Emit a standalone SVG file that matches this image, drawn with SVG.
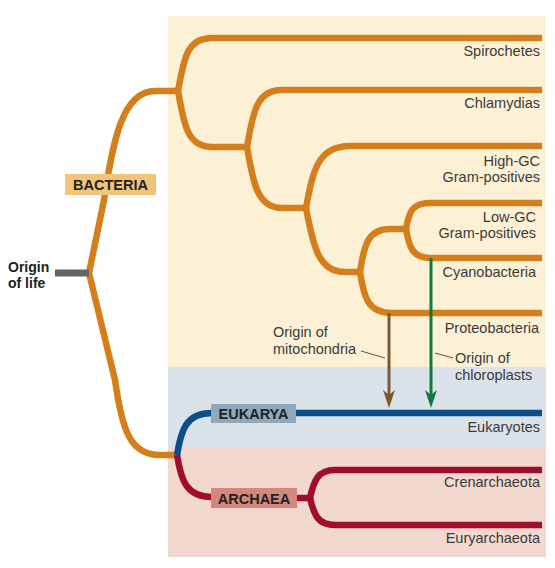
<svg xmlns="http://www.w3.org/2000/svg" width="555" height="568" viewBox="0 0 555 568">
<style>
.lbl{font-family:"Liberation Sans",Arial,sans-serif;font-size:14.5px;fill:#3a3a3a;text-anchor:end}
.note{font-family:"Liberation Sans",Arial,sans-serif;font-size:14.5px;fill:#3a3a3a}
.tag{font-family:"Liberation Sans",Arial,sans-serif;font-size:14.5px;font-weight:bold;fill:#222}
.o{fill:none;stroke:#d47f1c;stroke-width:6.5;stroke-linejoin:round}
.b{fill:none;stroke:#0c4f88;stroke-width:6.5}
.r{fill:none;stroke:#a00e2e;stroke-width:6.5}
.lead{fill:none;stroke:#444;stroke-width:0.9}
</style>
<g id="backgrounds">
<rect x="168" y="16" width="378" height="351" fill="#fdf1d5"/>
<rect x="168" y="367" width="378" height="81" fill="#dbe2e9"/>
<rect x="168" y="448" width="378" height="109" fill="#f2d8ce"/>
</g>
<g id="connectors">
<path class="o" d="M89,273 L104,200 C112,150 120,91 155,91 L178,91"/>
<path class="o" d="M89,273 L115,380 C122,430 130,455 160,455 L178,455"/>
<path class="o" d="M178,91 C184,60 186,38 212,38 L542,38"/>
<path class="o" d="M178,91 C184,122 186,147 212,147 L247,147"/>
<path class="o" d="M247,147 C253,113 256,90 282,90 L542,90"/>
<path class="o" d="M247,147 C253,180 256,208 282,208 L306,208"/>
<path class="o" d="M306,208 C313,170 318,146 350,146 L542,146"/>
<path class="o" d="M306,208 C313,245 318,272 345,272 L360,272"/>
<path class="o" d="M360,272 C364,245 368,229 390,229 L406,229"/>
<path class="o" d="M360,272 C364,298 368,313 392,313 L542,313"/>
<path class="o" d="M406,229 C409,212 412,203 430,203 L542,203"/>
<path class="o" d="M406,229 C409,246 412,258 430,258 L542,258"/>
<path class="b" d="M177,455 C181,430 186,413 212,413"/>
<path class="b" d="M295,413 L542,413"/>
<path class="r" d="M177,455 C181,480 186,497 212,497"/>
<path class="r" d="M296,498 L310,498"/>
<path class="r" d="M310,498 C314,480 318,470 335,470 L542,470"/>
<path class="r" d="M310,498 C314,515 318,525 335,525 L542,525"/>
<line x1="55" y1="273" x2="89" y2="273" stroke="#636363" stroke-width="7"/>
<line x1="389" y1="313" x2="389" y2="396" stroke="#7a5a2f" stroke-width="3"/>
<polygon points="389,408 383,390 389,395 395,390" fill="#7a5a2f"/>
<line x1="431" y1="258" x2="431" y2="396" stroke="#107a3c" stroke-width="3"/>
<polygon points="431,408 425,390 431,395 437,390" fill="#107a3c"/>
<path class="lead" d="M361,351 L385,358"/>
<path class="lead" d="M435,353 L453,358"/>
</g>
<g id="origin"><text class="tag" style="font-size:14px" x="8" y="272">Origin</text><text class="tag" style="font-size:14px" x="8" y="288">of life</text></g>
<g id="bacteria"><rect x="65" y="174" width="91" height="21" fill="#f2c47a"/><text class="tag" x="110.5" y="190" text-anchor="middle">BACTERIA</text></g>
<g id="eukarya"><rect x="211" y="404" width="85" height="19" fill="#8ea9bd"/><text class="tag" x="253.5" y="419" text-anchor="middle">EUKARYA</text></g>
<g id="archaea"><rect x="211" y="488" width="86" height="20" fill="#d4877a"/><text class="tag" x="254" y="504" text-anchor="middle">ARCHAEA</text></g>
<g id="spirochetes"><text class="lbl" x="540" y="56">Spirochetes</text></g>
<g id="chlamydias"><text class="lbl" x="540" y="108">Chlamydias</text></g>
<g id="highgc"><text class="lbl" x="540" y="166">High-GC</text><text class="lbl" x="540" y="182">Gram-positives</text></g>
<g id="lowgc"><text class="lbl" x="536" y="222">Low-GC</text><text class="lbl" x="536" y="238">Gram-positives</text></g>
<g id="cyanobacteria"><text class="lbl" x="536" y="277">Cyanobacteria</text></g>
<g id="proteobacteria"><text class="lbl" x="539" y="333">Proteobacteria</text></g>
<g id="mitochondria"><text class="note" x="273" y="337">Origin of</text><text class="note" x="273" y="354">mitochondria</text></g>
<g id="chloroplasts"><text class="note" x="455" y="363">Origin of</text><text class="note" x="455" y="380">chloroplasts</text></g>
<g id="eukaryotes"><text class="lbl" x="540" y="432">Eukaryotes</text></g>
<g id="crenarchaeota"><text class="lbl" x="540" y="487">Crenarchaeota</text></g>
<g id="euryarchaeota"><text class="lbl" x="540" y="543">Euryarchaeota</text></g>
</svg>
